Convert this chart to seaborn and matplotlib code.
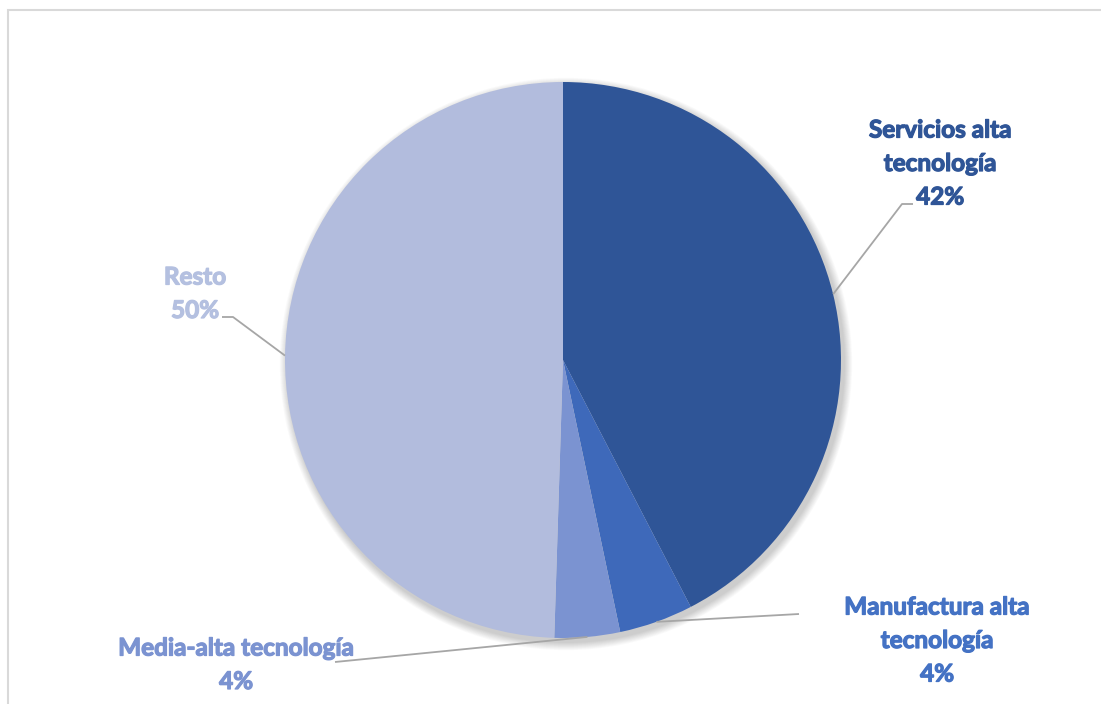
import matplotlib
matplotlib.use("Agg")
import matplotlib.pyplot as plt
import matplotlib.patches as mpatches
import matplotlib.patheffects as pe
import numpy as np
import seaborn as sns

# Sector shares (percent)
categories = ["Servicios alta\ntecnología", "Manufactura alta\ntecnología",
              "Media-alta tecnología", "Resto"]
shares = [42.4, 4.3, 3.8, 49.5]
slice_colors = ["#2F5597", "#3E69BA", "#7B93D1", "#B2BCDD"]
text_colors = ["#2F5597", "#4472C4", "#7B93D1", "#B4C0E0"]

sns.set_theme(style="white")
plt.rcParams["font.family"] = ["Lato", "DejaVu Sans"]

W, H = 1101, 704
fig = plt.figure(figsize=(W / 100, H / 100), dpi=100)
ax = fig.add_axes([0, 0, 1, 1])
ax.set_xlim(0, W)
ax.set_ylim(0, H)
ax.set_aspect("equal")
ax.axis("off")

cx, cy, R = 563, H - 360, 278

# soft drop shadow
for k in range(10):
    ax.add_patch(mpatches.Circle((cx + 3, cy - 4), R + 1 + k * 0.8,
                                 color="black", alpha=0.018, lw=0, zorder=0))

wedges, _ = ax.pie(shares, colors=slice_colors, startangle=90, counterclock=False,
                   center=(cx, cy), radius=R, frame=True,
                   wedgeprops=dict(linewidth=0))
ax.set_xlim(0, W)
ax.set_ylim(0, H)
ax.axis("off")

# label blocks: (text anchor x, first line y in px, elbow points in px)
label_pos = [
    dict(x=940, y=130, elbow=[(902, 204), (913, 204)], ha="center"),
    dict(x=937, y=607, elbow=[(799, 614)], ha="center"),
    dict(x=236, y=648, elbow=[(335, 662)], ha="center"),
    dict(x=195, y=277, elbow=[(233, 317), (222, 317)], ha="center"),
]

for w, cat, val, tc, lp in zip(wedges, categories, shares, text_colors, label_pos):
    mid = np.deg2rad((w.theta1 + w.theta2) / 2)
    ex, ey = cx + R * np.cos(mid), cy + R * np.sin(mid)
    pts = [(ex, ey)] + [(px, H - py) for px, py in lp["elbow"]]
    xs, ys = zip(*pts)
    ax.plot(xs, ys, color="#A6A6A6", lw=1.3, zorder=3, solid_capstyle="butt")
    lines = cat.split("\n") + [f"{val:.0f}%"]
    for i, line in enumerate(lines):
        ax.text(lp["x"], H - (lp["y"] + 33.5 * i), line, ha=lp["ha"], va="center",
                fontsize=17.5, fontweight="bold", color=tc, zorder=4,
                path_effects=[pe.withStroke(linewidth=0.9, foreground=tc)])

# chart frame
fig.patches.append(mpatches.Rectangle((8 / W, -0.1), 1.2, 1 - 9.5 / H + 0.1,
                                      transform=fig.transFigure, fill=False,
                                      edgecolor="#D9D9D9", lw=1.5))

fig.savefig("out.png", dpi=100)
